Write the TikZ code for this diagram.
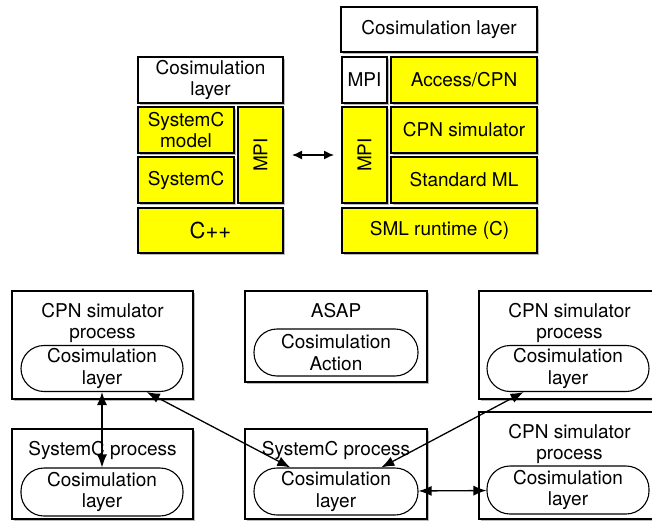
\documentclass[tikz,border=0pt]{standalone}
\usepackage{fontspec}
\setmainfont{TeX Gyre Heros}
\usetikzlibrary{arrows.meta, positioning, shadows}
\tikzset{>={Latex[length=13pt, width=10pt]}}
\definecolor{lyr}{rgb}{1, 1, 0}
\definecolor{shd}{gray}{.45}
\newcommand*{\fnt}{\fontsize{19}{21.5}\selectfont}
\tikzset{
  blk/.style={draw, line width=1.3pt, anchor=north west, inner sep=0pt, outer sep=0pt, align=center, font=\fnt,
    drop shadow={shadow xshift=1.5pt, shadow yshift=-2pt, fill=shd, opacity=.5}},
  lyb/.style={blk, fill=lyr},
  wtb/.style={blk, fill=white},
  ttl/.style={inner sep=0pt, align=center, font=\fnt},
  pill/.style={draw, line width=1.1pt, fill=white, rounded corners=23pt, minimum width=162pt, minimum height=46pt, inner sep=0pt, align=center, font=\fnt},
  lnk/.style={<->, line width=1.3pt}
}
\begin{document}
\begin{tikzpicture}[x=1pt, y=-1pt]
    \useasboundingbox(0, 0)rectangle(652, 521);
    % SystemC side
    \node[wtb, minimum width=145pt, minimum height=46pt](cosL)at(138, 57){Cosimulation\\layer};
    \node[lyb, minimum width=96pt, minimum height=46pt](scmL)at(138, 107){SystemC\\model};
    \node[lyb, minimum width=96pt, minimum height=46pt](scL)at(138, 157){SystemC};
    \node[lyb, minimum width=45pt, minimum height=96pt](mpiL)at(238, 107){\rotatebox{90}{MPI}};
    \node[lyb, minimum width=145pt, minimum height=45pt, font=\fontsize{22}{24}\selectfont](cppL)at(138, 208){C++};
    % CPN side
    \node[wtb, minimum width=196pt, minimum height=45pt](cosR)at(341, 7){Cosimulation layer};
    \node[wtb, minimum width=45pt, minimum height=46pt](mpiA)at(342, 57){MPI};
    \node[lyb, minimum width=146pt, minimum height=46pt](accR)at(391, 57){Access/CPN};
    \node[lyb, minimum width=45pt, minimum height=96pt](mpiB)at(342, 107){\rotatebox{90}{MPI}};
    \node[lyb, minimum width=146pt, minimum height=46pt](cpnR)at(391, 107){CPN simulator};
    \node[lyb, minimum width=146pt, minimum height=46pt](smlR)at(391, 157){Standard ML};
    \node[lyb, minimum width=195pt, minimum height=45pt](rtR)at(342, 208){SML runtime (C)};
    \draw[lnk, >={Latex[length=10pt, width=9pt]}, shorten <=9pt, shorten >=8pt](mpiL)--(mpiB);
    % processes
    \node[wtb, minimum width=181pt, minimum height=108pt](prA)at(12, 291){};
    \node[ttl, below=12pt of prA.north](prAt){CPN simulator\\process};
    \node[pill](layA)at(102, 368.5){Cosimulation\\layer};
    \node[wtb, minimum width=182pt, minimum height=91pt](prS)at(245, 291){};
    \node[ttl, below=12pt of prS.north](prSt){ASAP};
    \node[pill, minimum width=164pt, minimum height=47pt](actS)at(336, 352.5){Cosimulation\\Action};
    \node[wtb, minimum width=181pt, minimum height=108pt](prB)at(479, 291){};
    \node[ttl, below=12pt of prB.north](prBt){CPN simulator\\process};
    \node[pill](layB)at(568, 368.5){Cosimulation\\layer};
    \node[wtb, minimum width=181pt, minimum height=90pt](prC)at(12, 429){};
    \node[ttl, below=12pt of prC.north](prCt){SystemC process};
    \node[pill, minimum height=48pt](layC)at(102, 492){Cosimulation\\layer};
    \node[wtb, minimum width=182pt, minimum height=90pt](prM)at(245, 429){};
    \node[ttl, below=12pt of prM.north](prMt){SystemC process};
    \node[pill, minimum width=164pt, minimum height=47pt](layM)at(336, 491.5){Cosimulation\\layer};
    \node[wtb, minimum width=181pt, minimum height=107pt](prD)at(479, 412){};
    \node[ttl, below=12pt of prD.north](prDt){CPN simulator\\process};
    \node[pill, minimum height=48pt](layD)at(568, 490){Cosimulation\\layer};
    \draw[lnk](layA)--(layC);
    \draw[lnk](layA)--(layM);
    \draw[lnk](layB)--(layM);
    \draw[lnk](layM)--(layD);
\end{tikzpicture}
\end{document}
